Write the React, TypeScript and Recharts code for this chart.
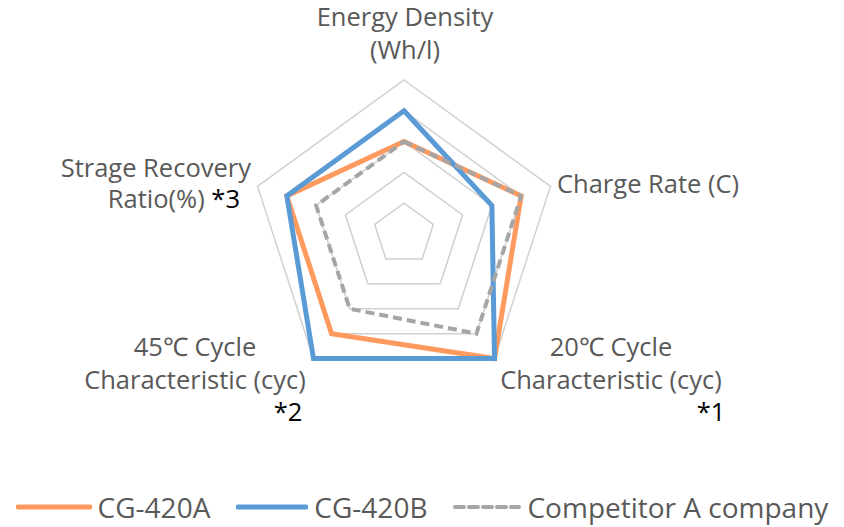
import React from 'react';
import { RadarChart, Radar, PolarGrid, PolarAngleAxis, PolarRadiusAxis } from 'recharts';

// axis order follows the reference, clockwise from the top
const axes = [
  'Energy Density (Wh/l)',
  'Charge Rate (C)',
  '20℃ Cycle Characteristic (cyc)',
  '45℃ Cycle Characteristic (cyc)',
  'Strage Recovery Ratio(%)',
];
const labelLines = [
  ['Energy Density', '(Wh/l)'],
  ['Charge Rate (C)'],
  ['20℃ Cycle', 'Characteristic (cyc)'],
  ['45℃ Cycle', 'Characteristic (cyc)'],
  ['Strage Recovery', 'Ratio(%)'],
];
const notes = ['', '', '*1', '*2', '*3'];

const cg420a = [3, 4, 5, 4, 4];
const cg420b = [4, 3, 5, 5, 4];
const competitorA = [3, 4, 4, 3, 3];

const seriesNames = ['CG-420A', 'CG-420B', 'Competitor A company'];

const data = axes.map((axis, i) => ({
  axis,
  a: cg420a[i],
  b: cg420b[i],
  c: competitorA[i],
}));

const TEXT = '#595959';
const FONT = '"Open Sans", sans-serif';
const FS = 25.5;

// label layout per axis: anchor point, text anchor, first baseline, note position
const labelLayout = [
  { x: 405, y: 26, anchor: 'middle' },
  { x: 557, y: 193, anchor: 'start' },
  { x: 611, y: 356, anchor: 'middle', nx: 711, ny: 421 },
  { x: 195, y: 356, anchor: 'middle', nx: 288, ny: 421 },
  { x: 251, y: 177, anchor: 'end' },
];
const LINE_H = 33;

const AxisTick = (props: any) => {
  const { index } = props;
  const L = labelLayout[index];
  const lines = labelLines[index];
  return (
    <g>
      {lines.map((ln, k) => {
        if (index === 4 && k === 1) {
          return (
            <text key={k} x={240} y={L.y + LINE_H * k - 2} textAnchor="end" fontSize={FS} fontFamily={FONT} fill={TEXT}>
              {ln}
              <tspan fill="#000"> {notes[index]}</tspan>
            </text>
          );
        }
        return (
          <text key={k} x={L.x} y={L.y + LINE_H * k} textAnchor={L.anchor as any} fontSize={FS} fontFamily={FONT} fill={TEXT}>
            {ln}
          </text>
        );
      })}
      {L.nx !== undefined && (
        <text x={L.nx} y={L.ny} textAnchor="middle" fontSize={FS} fontFamily={FONT} fill="#000">
          {notes[index]}
        </text>
      )}
    </g>
  );
};

const legendItems = [
  { name: seriesNames[0], color: '#FF9A5F', dash: undefined, width: 5, len: 76 },
  { name: seriesNames[1], color: '#5B9BD5', dash: undefined, width: 5, len: 72 },
  { name: seriesNames[2], color: '#A5A5A5', dash: '9 5', width: 4, len: 68 },
];

export default function App() {
  return (
    <div style={{ position: 'absolute', left: 0, top: 0, width: 844, height: 527, background: '#fff', overflow: 'hidden' }}>
      <RadarChart width={844} height={527} data={data} cx={404} cy={234} outerRadius={154} margin={{ top: 0, right: 0, bottom: 0, left: 0 }}>
        <PolarGrid gridType="polygon" radialLines={false} stroke="#D0D0D0" strokeWidth={1.5} />
        <PolarRadiusAxis domain={[0, 5]} tickCount={6} tick={false} axisLine={false} />
        <PolarAngleAxis dataKey="axis" tick={<AxisTick />} tickLine={false} axisLine={false} />
        <Radar name={seriesNames[0]} dataKey="a" stroke="#FF9A5F" strokeWidth={5} fill="none" fillOpacity={0} dot={false} isAnimationActive={false} strokeLinejoin="miter" />
        <Radar name={seriesNames[1]} dataKey="b" stroke="#5B9BD5" strokeWidth={5} fill="none" fillOpacity={0} dot={false} isAnimationActive={false} strokeLinejoin="miter" />
        <Radar name={seriesNames[2]} dataKey="c" stroke="#A5A5A5" strokeWidth={4} strokeDasharray="9 5" fill="none" fillOpacity={0} dot={false} isAnimationActive={false} />
      </RadarChart>
      <div
        style={{
          position: 'absolute',
          left: 0,
          top: 491,
          height: 32,
          width: 844,
          display: 'flex',
          justifyContent: 'center',
          alignItems: 'center',
          gap: 26,
          fontFamily: FONT,
          fontSize: 28,
          lineHeight: '32px',
          color: TEXT,
          whiteSpace: 'nowrap',
        }}
      >
        {legendItems.map((it) => (
          <div key={it.name} style={{ display: 'flex', alignItems: 'center', height: 32 }}>
            <svg width={it.len} height={10} style={{ marginRight: 6 }}>
              <line x1={2} y1={5} x2={it.len - 2} y2={5} stroke={it.color} strokeWidth={it.width} strokeDasharray={it.dash} strokeLinecap="round" />
            </svg>
            <span>{it.name}</span>
          </div>
        ))}
      </div>
    </div>
  );
}
